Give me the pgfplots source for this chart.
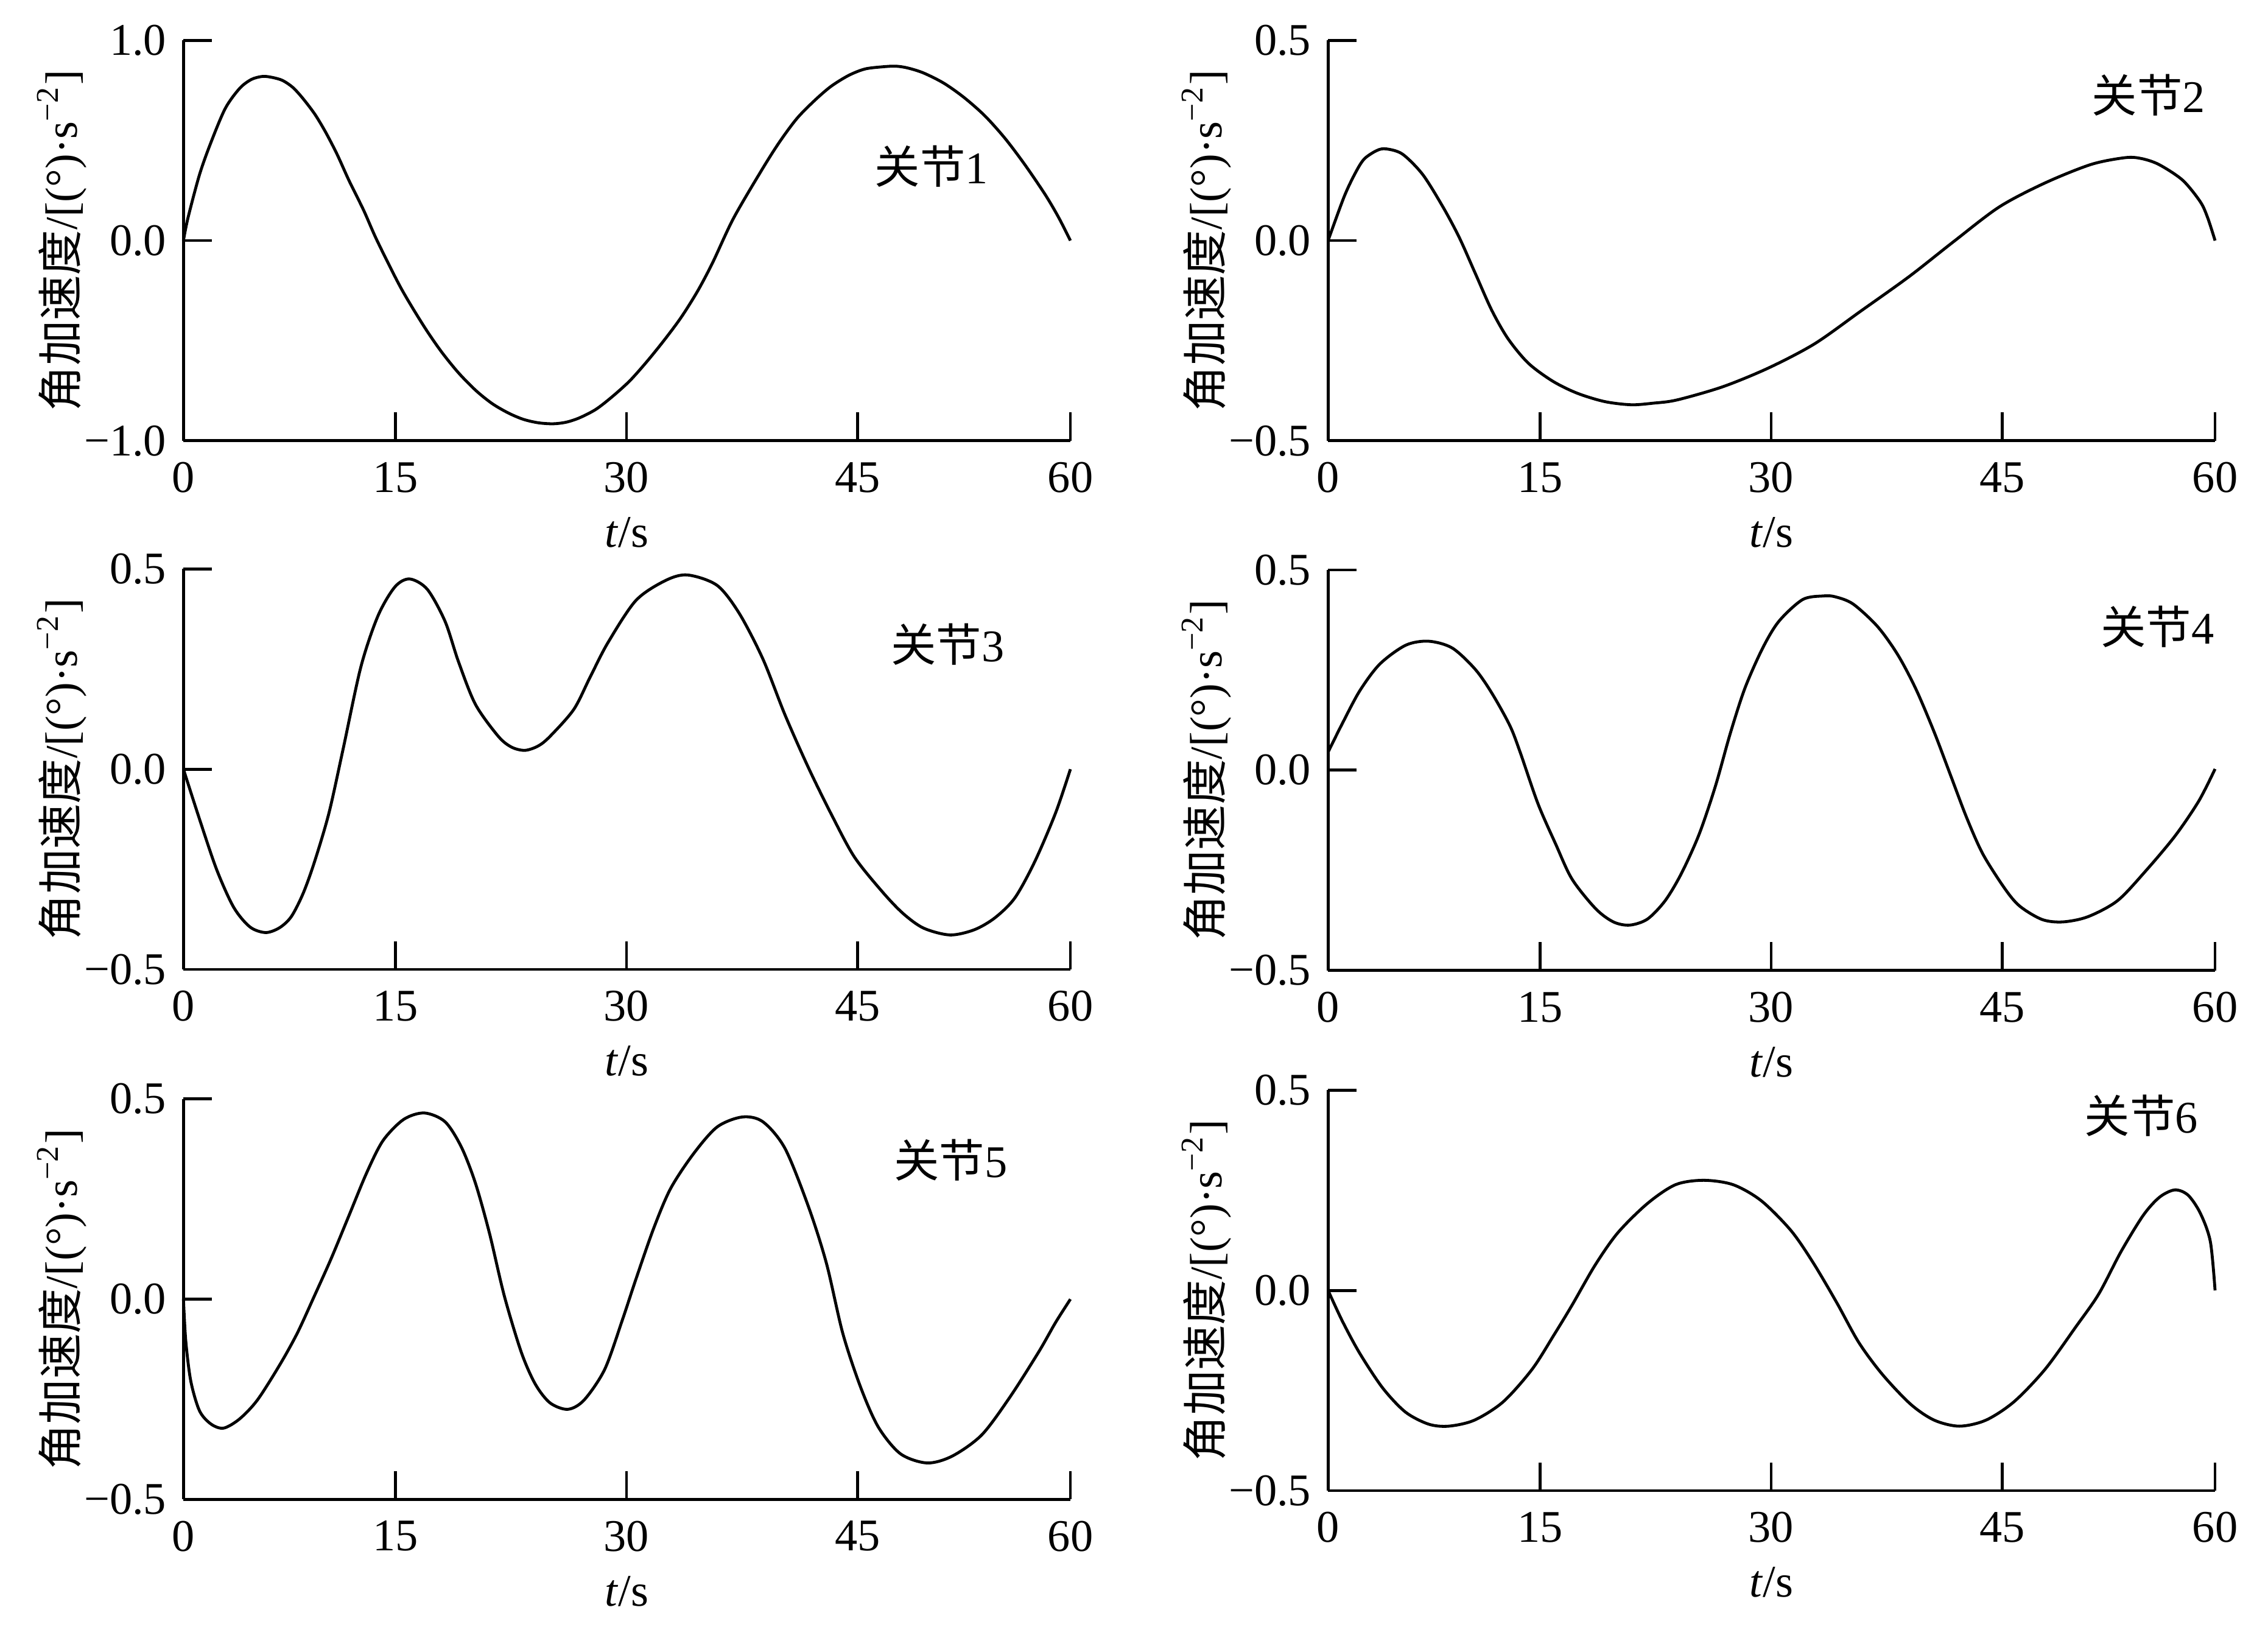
\documentclass[border=0pt]{standalone}
\usepackage{fontspec}
\setmainfont{Liberation Serif}
\newfontfamily\cjk{Noto Sans CJK SC}
\usepackage{pgfplots}
\pgfplotsset{compat=1.18}
\tikzset{tag/.style={font=\fontsize{9.3}{11}\selectfont, anchor=center}}
\pgfplotsset{
  myax/.style={
    scale only axis, width=182.1pt, height=82.2pt, anchor=north west,
    axis lines*=left, axis line style={line width=0.6pt},
    xmin=0, xmax=60, xtick={0,14.35,29.97,45.6,60}, xticklabels={0,15,30,45,60},
    tick align=inside, tick pos=left, major tick length=5.8pt,
    tick style={line width=0.6pt, black},
    ticklabel style={font=\fontsize{9.3}{11}\selectfont},
    xticklabel style={yshift=-0.9pt},
    /pgf/number format/assume math mode=true,
    every axis y label/.style={at={(axis description cs:-0.137,0.5)}, anchor=center, rotate=90},
    every axis x label/.style={at={(axis description cs:0.5,-0.229)}, anchor=center},
    label style={font=\fontsize{9.3}{11}\selectfont},
    xlabel={\textit{t}/s},
    ylabel={{\cjk 角加速度}/[(°)·s\textsuperscript{−2}]},
    clip=false,
  },
  halfax/.style={myax, ymin=-0.5, ymax=0.5, ytick={-0.5,0,0.5}, yticklabels={−0.5,0.0,0.5}},
  curve/.style={black, line width=0.6pt, smooth, tension=0.5, mark=none},
}
\begin{document}
\begin{tikzpicture}
\path[use as bounding box] (0,0) rectangle (465.625pt,-336.25pt);
% Joint 1
\begin{axis}[myax, at={(37.66pt,-8.29pt)}, ymin=-1, ymax=1, ytick={-1,0,1}, yticklabels={−1.0,0.0,1.0}]
\addplot[curve] coordinates {(0,0) (0.31,0.114) (1.09,0.33) (1.86,0.49) (2.83,0.66) (3.8,0.76) (4.6,0.805) (5.36,0.82) (6.0,0.815) (6.7,0.80) (7.4,0.765) (8.08,0.71) (8.9,0.63) (9.63,0.54) (10.4,0.43) (11.2,0.30) (12.2,0.15) (13.1,0.0) (14.7,-0.235) (16.2,-0.42) (17.4,-0.55) (18.6,-0.66) (19.8,-0.75) (20.9,-0.815) (22.0,-0.862) (23.0,-0.893) (24.0,-0.910) (25.0,-0.915) (25.9,-0.907) (26.8,-0.885) (27.9,-0.843) (29.0,-0.78) (30.2,-0.70) (31.4,-0.60) (32.6,-0.49) (33.7,-0.38) (34.8,-0.25) (35.8,-0.11) (37.2,0.11) (39.1,0.35) (40.3,0.49) (41.5,0.61) (42.7,0.70) (43.8,0.77) (45.0,0.825) (46.1,0.857) (47.3,0.868) (48.2,0.871) (49.0,0.862) (50.07,0.837) (51.44,0.786) (52.8,0.715) (54.2,0.624) (55.56,0.512) (56.9,0.381) (58.3,0.229) (59.2,0.116) (60,0)};
\node[tag] at (axis cs:50.6,0.372) {{\cjk 关节}1};
\end{axis}
% Joint 2
\begin{axis}[halfax, at={(272.66pt,-8.29pt)}]
\addplot[curve] coordinates {(0,0) (1.09,0.11) (1.86,0.17) (2.45,0.204) (3.3,0.225) (3.93,0.229) (5.03,0.216) (6.40,0.165) (7.77,0.084) (8.87,0.008) (9.97,-0.083) (11.07,-0.174) (12.17,-0.245) (13.54,-0.306) (15.19,-0.351) (16.84,-0.381) (18.7,-0.402) (20.5,-0.41) (22.0,-0.406) (23.6,-0.398) (26.7,-0.365) (29.8,-0.318) (32.9,-0.258) (36.0,-0.177) (39.3,-0.09) (42.3,-0.003) (45.4,0.084) (48.5,0.144) (51.6,0.19) (53.9,0.207) (55.0,0.205) (56.2,0.19) (57.8,0.151) (59.0,0.097) (59.5,0.057) (60,0)};
\node[tag] at (axis cs:55.5,0.363) {{\cjk 关节}2};
\end{axis}
% Joint 3
\begin{axis}[halfax, at={(37.66pt,-116.8pt)}]
\addplot[curve] coordinates {(0,0) (1.09,-0.125) (2.25,-0.251) (3.4,-0.345) (4.5,-0.394) (5.56,-0.408) (6.5,-0.396) (7.3,-0.368) (8.1,-0.31) (8.87,-0.231) (9.84,-0.11) (10.8,0.05) (12.0,0.255) (13.15,0.382) (14.3,0.455) (15.3,0.475) (16.5,0.449) (17.7,0.369) (18.6,0.269) (19.75,0.162) (21.3,0.082) (22.2,0.055) (23.1,0.047) (24.0,0.058) (24.8,0.082) (26.4,0.149) (27.5,0.229) (28.7,0.315) (30.6,0.421) (32.6,0.471) (34.1,0.485) (36.1,0.459) (37.6,0.389) (39.2,0.275) (40.7,0.135) (42.3,0.002) (43.9,-0.118) (45.4,-0.22) (47.32,-0.308) (48.7,-0.361) (50.07,-0.397) (51.86,-0.414) (53.5,-0.401) (54.9,-0.371) (56.25,-0.321) (57.6,-0.230) (59.0,-0.109) (60,0)};
\node[tag] at (axis cs:51.7,0.312) {{\cjk 关节}3};
\end{axis}
% Joint 4
\begin{axis}[halfax, at={(272.66pt,-117.0pt)}]
\addplot[curve] coordinates {(0,0.045) (0.97,0.117) (2.14,0.198) (3.5,0.265) (5.25,0.312) (6.8,0.322) (8.4,0.305) (9.95,0.252) (11.1,0.191) (12.3,0.111) (13.0,0.044) (14.2,-0.084) (15.4,-0.185) (16.5,-0.272) (18.1,-0.346) (19.3,-0.379) (20.4,-0.387) (21.6,-0.372) (22.8,-0.326) (23.9,-0.258) (25.1,-0.16) (26.2,-0.04) (27.2,0.091) (28.2,0.205) (29.4,0.305) (30.5,0.372) (32.1,0.426) (33.5,0.435) (34.3,0.433) (35.51,0.415) (37.16,0.359) (38.54,0.288) (39.77,0.202) (41.0,0.095) (42.1,-0.012) (43.2,-0.119) (44.3,-0.21) (45.8,-0.297) (46.8,-0.34) (48.3,-0.373) (49.7,-0.379) (51.4,-0.366) (53.4,-0.326) (55.3,-0.252) (57.3,-0.164) (58.9,-0.077) (60,0.003)};
\node[tag] at (axis cs:56.1,0.358) {{\cjk 关节}4};
\end{axis}
% Joint 5
\begin{axis}[halfax, at={(37.66pt,-225.6pt)}]
\addplot[curve] coordinates {(0,0) (0.16,-0.105) (0.5,-0.205) (1.09,-0.279) (1.87,-0.312) (2.72,-0.322) (3.8,-0.299) (5.0,-0.252) (6.5,-0.165) (7.7,-0.085) (8.87,0.009) (10.0,0.102) (11.2,0.209) (12.4,0.316) (13.5,0.396) (14.9,0.449) (16.3,0.465) (17.7,0.443) (18.8,0.38) (19.75,0.29) (20.7,0.165) (21.7,0.009) (22.85,-0.132) (23.8,-0.212) (24.8,-0.259) (26.0,-0.275) (27.1,-0.252) (28.5,-0.175) (29.7,-0.051) (30.6,0.049) (31.8,0.176) (32.95,0.276) (34.5,0.363) (36.1,0.430) (37.8,0.455) (39.2,0.443) (40.7,0.376) (42.3,0.229) (43.5,0.089) (44.6,-0.085) (45.8,-0.219) (47.0,-0.319) (48.5,-0.386) (50.3,-0.409) (52.0,-0.392) (54.0,-0.339) (55.9,-0.245) (57.85,-0.132) (59.0,-0.058) (60,0)};
\node[tag] at (axis cs:51.9,0.348) {{\cjk 关节}5};
\end{axis}
% Joint 6
\begin{axis}[halfax, at={(272.66pt,-223.8pt)}]
\addplot[curve] coordinates {(0,0) (0.97,-0.077) (2.14,-0.157) (3.7,-0.244) (5.24,-0.304) (6.8,-0.334) (8.16,-0.339) (9.9,-0.324) (11.85,-0.278) (13.8,-0.197) (15.3,-0.110) (16.5,-0.037) (18.06,0.063) (19.6,0.144) (21.6,0.217) (23.5,0.264) (25.4,0.275) (27.4,0.264) (29.3,0.224) (31.3,0.15) (32.8,0.07) (34.4,-0.03) (35.9,-0.13) (37.5,-0.21) (39.4,-0.284) (41.0,-0.324) (42.7,-0.339) (44.5,-0.324) (46.4,-0.278) (48.5,-0.197) (50.6,-0.09) (52.13,-0.009) (53.64,0.097) (55.15,0.188) (56.25,0.233) (57.28,0.251) (58.17,0.238) (59.0,0.193) (59.68,0.122) (60,0)};
\node[tag] at (axis cs:55.0,0.437) {{\cjk 关节}6};
\end{axis}
\end{tikzpicture}
\end{document}
